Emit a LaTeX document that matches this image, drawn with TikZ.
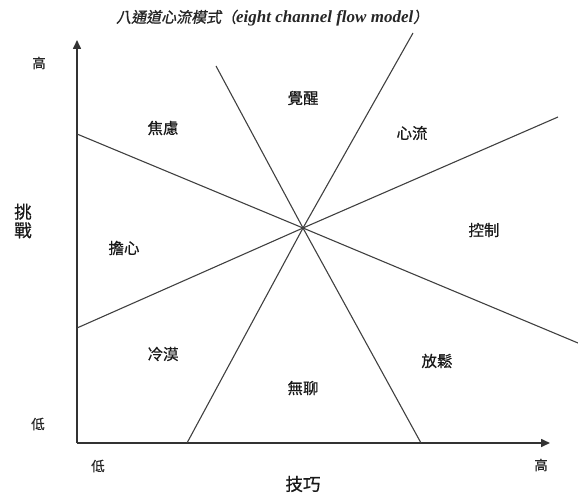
\documentclass[tikz,border=0pt]{standalone}
\usepackage{fontspec}
\setmainfont{Liberation Serif}
\newfontfamily\cjk[FakeBold=0.6]{Noto Sans CJK TC}
\newfontfamily\cjkit[FakeSlant=0.2,FakeBold=1.2]{Noto Sans CJK TC}
\usetikzlibrary{arrows.meta}
\begin{document}
\begin{tikzpicture}[x=1pt,y=-1pt,
  axis/.style={line width=1.6pt,draw=black!80,-{Triangle[length=9pt,width=8pt]}},
  divline/.style={line width=1.1pt,draw=black!75},
  lab/.style={font=\cjk\fontsize{15.5}{15.5}\selectfont,text=black!90,inner sep=0pt},
  axlab/.style={font=\cjk\fontsize{13.5}{13.5}\selectfont,text=black!85,inner sep=0pt},
  biglab/.style={font=\cjk\fontsize{17.5}{17.5}\selectfont,text=black!90,inner sep=0pt}]
\useasboundingbox (0,0) rectangle (578,497);
% axes
\coordinate (O) at (77,443);
\coordinate (Ytop) at (77,40);
\coordinate (Xend) at (550,443);
\draw[axis] (O) -- (Ytop);
\draw[axis] (O) -- (Xend);
% dividing lines through centre
\coordinate (C) at (303,228);
\coordinate (L1) at (77,134);
\coordinate (R1) at (578,343);
\coordinate (L2) at (77,328);
\coordinate (R2) at (558,117);
\coordinate (T1) at (216,66);
\coordinate (B1) at (421,443);
\coordinate (T2) at (413,33);
\coordinate (B2) at (187,443);
\draw[divline] (L1) -- (C) -- (R1);
\draw[divline] (L2) -- (C) -- (R2);
\draw[divline] (T1) -- (C) -- (B1);
\draw[divline] (T2) -- (C) -- (B2);
% title
\node[inner sep=0pt,anchor=west,text=black!85] (title) at (116,18)
  {{\cjkit\fontsize{15}{15}\selectfont 八通道心流模式（}{\bfseries\itshape\fontsize{17}{17}\selectfont eight channel flow model}{\cjkit\fontsize{15}{15}\selectfont ）}};
% region labels
\node[lab] (jiaolu) at (163,128) {焦慮};
\node[lab] (juexing) at (303,98) {覺醒};
\node[lab] (xinliu) at (412,133) {心流};
\node[lab] (danxin) at (124,248) {擔心};
\node[lab] (kongzhi) at (484,230) {控制};
\node[lab] (lengmo) at (163,354) {冷漠};
\node[lab] (wuliao) at (303,388) {無聊};
\node[lab] (fangsong) at (437,361) {放鬆};
% axis labels
\node[axlab] (yhigh) at (39,63) {高};
\node[axlab] (ylow) at (38,424) {低};
\node[axlab] (xlow) at (98,466) {低};
\node[axlab] (xhigh) at (541,465) {高};
\node[biglab,align=center] (tiaozhan) at (23,221) {挑\\[1pt]戰};
\node[biglab] (jiqiao) at (303,484) {技巧};
\end{tikzpicture}
\end{document}
